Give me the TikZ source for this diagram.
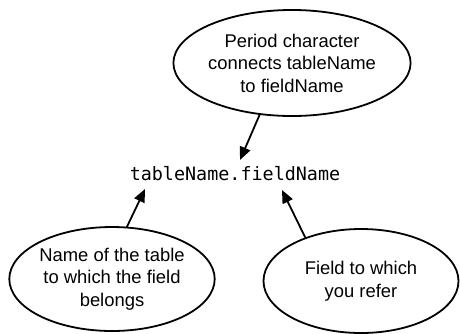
\documentclass[tikz,border=0pt]{standalone}
\usepackage{fontspec}
\setmainfont{Liberation Sans}
\newfontfamily\codefont{DejaVu Sans Mono}
\usetikzlibrary{shapes.geometric,arrows.meta}
\tikzset{
  bubble/.style={ellipse, draw, line width=1.8pt, inner sep=0pt, align=center,
    font=\fontsize{18.4}{22.5}\selectfont},
  arr/.style={line width=1.8pt, -{Triangle[length=13pt,width=11pt]}, shorten <=-0.5pt},
  codetext/.style={inner sep=0pt, font=\codefont\fontsize{18.4}{22}\selectfont}
}
\begin{document}
\begin{tikzpicture}[x=1pt,y=-1pt]
\useasboundingbox (0,0) rectangle (460,333);
\node[bubble, minimum width=200pt, minimum height=106pt] (top) at (292,63)
  {Period character\\connects tableName\\to fieldName};
\node[codetext] (code) at (235,174) {tableName.fieldName};
\node[bubble, minimum width=201pt, minimum height=104pt] (left) at (112,279)
  {Name of the table\\to which the field\\belongs};
\node[bubble, minimum width=195pt, minimum height=104pt] (right) at (361,281)
  {Field to which\\you refer};
\coordinate (tipA) at (240,160);
\coordinate (tipB) at (145,189);
\coordinate (tipC) at (282,190);
\draw[arr] (top.238) -- (tipA);
\draw[arr] (left.74) -- (tipB);
\draw[arr] (right.142) -- (tipC);
\end{tikzpicture}
\end{document}
